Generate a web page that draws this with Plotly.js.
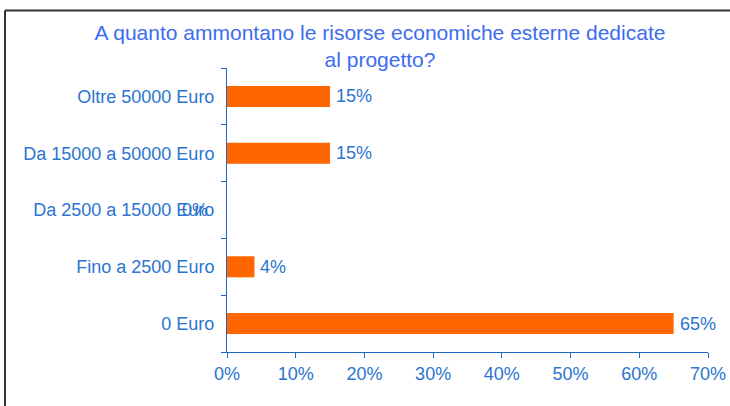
<!DOCTYPE html>
<html>
<head>
<meta charset="utf-8">
<script src="https://cdn.plot.ly/plotly-3.0.1.min.js"></script>
<style>html,body{margin:0;padding:0;background:#fff;}#chart{width:730px;height:406px;}</style>
</head>
<body>
<div id="chart"></div>
<script>
const categories = ["0 Euro", "Fino a 2500 Euro", "Da 2500 a 15000 Euro", "Da 15000 a 50000 Euro", "Oltre 50000 Euro"];
const values = [65, 4, 0, 15, 15];
const labels = ["65%", "4%", "0%", "15%", "15%"];
const xTickVals = [0, 10, 20, 30, 40, 50, 60, 70];
const xTickText = ["0%", "10%", "20%", "30%", "40%", "50%", "60%", "70%"];

const W = 730, H = 406;
const M = {l: 227, r: 22, t: 68, b: 54};
const pw = W - M.l - M.r, ph = H - M.t - M.b;
const px = x => (x - M.l) / pw;
const py = y => 1 - (y - M.t) / ph;

const FONT = "Liberation Sans, Arial, sans-serif";
const BLUE = "#2b74d0";

const annotations = values.map((v, i) => ({
  x: v, y: categories[i], xref: "x", yref: "y",
  text: labels[i], showarrow: false,
  xanchor: v === 0 ? "right" : "left",
  xshift: v === 0 ? -17 : 4,
  font: {family: FONT, size: 18, color: BLUE}
}));

const data = [{
  type: "bar", orientation: "h",
  x: values, y: categories,
  marker: {color: "#ff6600", line: {width: 0}},
  width: 0.37,
  hoverinfo: "none"
}];

const layout = {
  width: W, height: H,
  margin: M,
  paper_bgcolor: "#fff", plot_bgcolor: "#fff",
  showlegend: false,
  title: {
    text: "A quanto ammontano le risorse economiche esterne dedicate<br>al progetto?",
    font: {family: FONT, size: 21, color: "#3d6cf0"},
    x: 380 / W, xref: "container", xanchor: "center",
    y: 1 - 40 / H, yref: "container", yanchor: "top"
  },
  xaxis: {
    range: [0, 70], tickvals: xTickVals, ticktext: xTickText,
    showgrid: false, zeroline: false,
    showline: true, linecolor: "#1f66c8", linewidth: 1,
    ticks: "outside", ticklen: 5, tickcolor: "#1f66c8",
    tickfont: {family: FONT, size: 18, color: BLUE},
    fixedrange: true
  },
  yaxis: {
    categoryorder: "array", categoryarray: categories,
    showgrid: false, zeroline: false,
    showline: true, linecolor: "#1f66c8", linewidth: 1,
    ticks: "outside", ticklen: 5, tickcolor: "#1f66c8",
    tickson: "boundaries",
    ticklabelstandoff: 8,
    tickfont: {family: FONT, size: 18, color: BLUE},
    fixedrange: true
  },
  annotations: annotations,
  shapes: [
    {type: "line", xref: "paper", yref: "paper", x0: px(5), x1: px(730), y0: py(10.5), y1: py(10.5), line: {color: "#333", width: 2}},
    {type: "line", xref: "paper", yref: "paper", x0: px(5), x1: px(5), y0: py(10.5), y1: py(406), line: {color: "#333", width: 2}}
  ]
};

Plotly.newPlot("chart", data, layout, {displayModeBar: false, staticPlot: true});
</script>
</body>
</html>
